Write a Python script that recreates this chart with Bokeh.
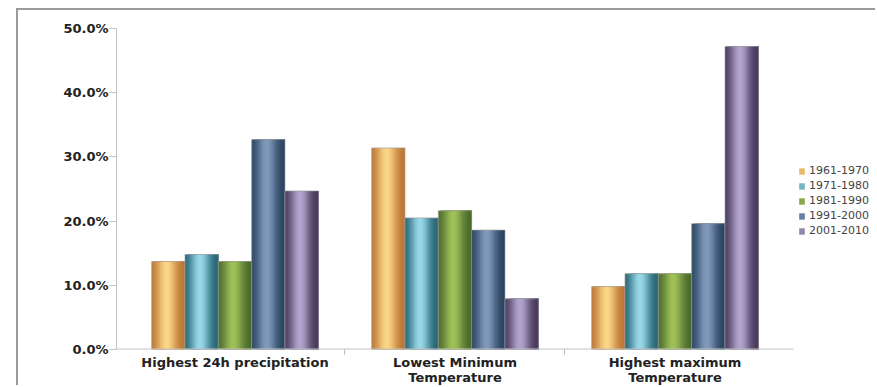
import numpy as np
from bokeh.plotting import figure
from bokeh.models import (ColumnDataSource, Range1d, LinearAxis, FixedTicker,
                          NumeralTickFormatter, Legend, LegendItem)
from bokeh.embed import file_html
from bokeh.resources import INLINE

# --- data -------------------------------------------------------------
categories = ["Highest 24h precipitation", "Lowest Minimum Temperature",
              "Highest maximum Temperature"]
category_labels = ["Highest 24h precipitation", "Lowest Minimum\nTemperature",
                   "Highest maximum\nTemperature"]
decades = ["1961-1970", "1971-1980", "1981-1990", "1991-2000", "2001-2010"]
share_1961_1970 = [0.137, 0.314, 0.098]
share_1971_1980 = [0.148, 0.205, 0.118]
share_1981_1990 = [0.137, 0.216, 0.118]
share_1991_2000 = [0.327, 0.186, 0.196]
share_2001_2010 = [0.247, 0.079, 0.472]
y_ticks = [0.0, 0.1, 0.2, 0.3, 0.4, 0.5]

series = [share_1961_1970, share_1971_1980, share_1981_1990,
          share_1991_2000, share_2001_2010]

# cylinder shading: (edge colour, highlight colour) per decade
shades = [("#bb7230", "#fad687"),
          ("#21606e", "#98d8e8"),
          ("#46662a", "#a0c058"),
          ("#26405e", "#8199bb"),
          ("#433456", "#b2a4cc")]

BAR_W = 0.1515          # width of one bar in category units
N_STRIPS = 20
X_START = -0.0386       # a little room either side of the three categories
X_AXIS_END = len(categories) - X_START


def hex_to_rgb(h):
    h = h.lstrip("#")
    return np.array([int(h[i:i + 2], 16) for i in (0, 2, 4)], dtype=float)


def mix(c0, c1, f):
    c = c0 + (c1 - c0) * f
    return "#%02x%02x%02x" % tuple(int(round(v)) for v in c)


# the plot area runs on to the right edge so the legend can sit inside it
p = figure(width=859, height=377,
           x_range=Range1d(X_START, X_START + 761 / 220), y_range=Range1d(0, 0.5),
           output_backend="svg", toolbar_location=None, x_axis_location=None,
           min_border_left=98, min_border_right=0,
           min_border_top=18, min_border_bottom=36)
p.outline_line_color = None
p.background_fill_color = "white"
p.border_fill_color = "white"
p.xgrid.visible = False
p.ygrid.visible = False
# chart-area border on the top and left edges
p.margin = (8, 0, 0, 16)
p.styles = {"border-top": "2px solid #9a9a9a", "border-left": "2px solid #9a9a9a"}

legend_items = []
for j, (vals, (edge, light)) in enumerate(zip(series, shades)):
    c_edge, c_light = hex_to_rgb(edge), hex_to_rgb(light)
    lefts, rights, tops, cols = [], [], [], []
    for i, v in enumerate(vals):
        center = i + 0.5 + (j - 2) * BAR_W
        bar_left, bar_right = center - BAR_W / 2, center + BAR_W / 2
        # strips drawn left to right, each running to the bar's right edge,
        # so every one is covered by the next except for its own slice
        for k in range(N_STRIPS):
            t = (k + 0.5) / N_STRIPS
            f = float(np.exp(-((t - 0.45) / 0.3) ** 2))
            lefts.append(bar_left + k * BAR_W / N_STRIPS)
            rights.append(bar_right)
            tops.append(v)
            cols.append(mix(c_edge, c_light, f))
    src = ColumnDataSource(dict(left=lefts, right=rights, top=tops, color=cols))
    r = p.quad(left="left", right="right", top="top", bottom=0,
               fill_color="color", line_color=None, source=src)
    # thin outline round each bar
    bsrc = ColumnDataSource(dict(x=[i + 0.5 + (j - 2) * BAR_W for i in range(len(vals))],
                                 top=vals))
    p.vbar(x="x", top="top", bottom=0, width=BAR_W, fill_color=None,
           line_color="#9c9c9c", line_width=0.8, line_alpha=0.8, source=bsrc)
    legend_items.append(LegendItem(label=decades[j], renderers=[r], index=5))

# baseline of the category axis, ending after the last category
p.segment(x0=[X_START], y0=[0], x1=[X_AXIS_END], y1=[0],
          line_color="#c4c4c4", line_width=2)

# y axis
yax = p.yaxis[0]
yax.ticker = FixedTicker(ticks=y_ticks)
yax.formatter = NumeralTickFormatter(format="0.0%")
yax.major_label_text_font = "DejaVu Sans"
yax.major_label_text_font_style = "bold"
yax.major_label_text_font_size = "13px"
yax.major_label_text_color = "#222222"
yax.major_tick_in = 0
yax.major_tick_out = 7
yax.minor_tick_line_color = None
yax.major_label_standoff = 1
yax.axis_line_color = "#c4c4c4"
yax.major_tick_line_color = "#c4c4c4"

# x axis: labels at category centres, small ticks between categories
xax = LinearAxis(ticker=FixedTicker(ticks=[0.5, 1.5, 2.5], minor_ticks=[1.0, 2.0]),
                 major_label_overrides={0.5: category_labels[0],
                                        1.5: category_labels[1],
                                        2.5: category_labels[2]})
xax.axis_line_color = None
xax.major_tick_line_color = None
xax.major_tick_in = 0
xax.major_tick_out = 0
xax.minor_tick_in = 0
xax.minor_tick_out = 5
xax.minor_tick_line_color = "#b8b8b8"
xax.major_label_standoff = 0
xax.major_label_text_font = "DejaVu Sans"
xax.major_label_text_font_style = "bold"
xax.major_label_text_font_size = "13px"
xax.major_label_text_color = "#222222"
xax.major_label_text_line_height = 1.0
p.add_layout(xax, "below")

legend = Legend(items=legend_items, location=(682, 112))
legend.glyph_width = 7
legend.glyph_height = 8
legend.label_height = 12
legend.spacing = 2
legend.padding = 0
legend.margin = 0
legend.label_standoff = 4
legend.border_line_color = None
legend.background_fill_alpha = 0
legend.label_text_font = "DejaVu Sans"
legend.label_text_font_size = "11px"
legend.label_text_color = "#444444"
p.add_layout(legend)

open("out.html", "w").write(file_html(p, INLINE))
